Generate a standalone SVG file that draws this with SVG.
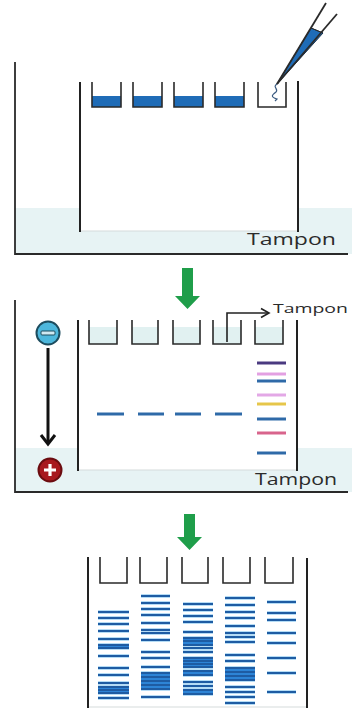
<svg xmlns="http://www.w3.org/2000/svg" xmlns:xlink="http://www.w3.org/1999/xlink" width="352" height="714" viewBox="0 0 352 714">
  <style>
    .wall { stroke: #222; stroke-width: 2; fill: none; }
    .tank { stroke: #2a2a2a; stroke-width: 1.8; fill: none; }
    .well { stroke: #2a2a2a; stroke-width: 1.6; fill: none; }
    .gelbase { stroke: #d6dcdc; stroke-width: 1.2; }
    .buffer { fill: #e7f3f4; }
    .label { font-family: "Open Sans", "Liberation Sans", sans-serif; fill: #2b2b2b; }
    .green { fill: #1f9e4a; }
    .halo { stroke: #b5dcf5; stroke-width: 4.2; fill: none; }
    .band { stroke: #1e5ca3; stroke-width: 2.1; fill: none; }
    .block { fill: #2d84d6; }
  </style>
  <defs>
    <!-- band layouts for the final gel, one path per lane -->
    <path id="lane1" d="M98,612h31M98,618h31M98,624h31M98,631h31M98,639h31M98,645h31M98,648h31M98,656h31M98,668h31M98,675h31M98,683h31M98,687h31M98,690h31M98,693h31M98,698h31"/>
    <path id="lane2" d="M141,596h29M141,603h29M141,609h29M141,615h29M141,623h29M141,630h29M141,633h29M141,640h29M141,652h29M141,658h29M141,667h29M141,673h29M141,677h29M141,681h29M141,685h29M141,689h29M141,697h29"/>
    <path id="lane3" d="M183,604h30M183,610h30M183,616h30M183,622h30M183,632h30M183,638h30M183,641h30M183,645h30M183,648h30M183,652h30M183,658h30M183,661h30M183,664h30M183,667h30M183,671h30M183,675h30M183,682h30M183,686h30M183,690h30M183,694h30"/>
    <path id="lane4" d="M225,598h30M225,605h30M225,612h30M225,618h30M225,626h30M225,633h30M225,637h30M225,642h30M225,655h30M225,661h30M225,668h30M225,672h30M225,676h30M225,680h30M225,687h30M225,692h30M225,697h30M225,703h30"/>
    <path id="lane5" d="M267,602h29M267,613h29M267,620h29M267,633h29M267,643h29M267,658h29M267,673h29M267,692h29"/>
  </defs>

  <rect width="352" height="714" fill="#ffffff"/>

  <!-- Step 1: loading the wells -->
  <g id="tank1">
    <rect class="buffer" x="15" y="208" width="337" height="46"/>
    <path class="tank" d="M15,62 V254 H348"/>
  </g>
  <g id="gel1">
    <rect x="80" y="82" width="218" height="149" fill="#ffffff"/>
    <line class="gelbase" x1="80" y1="231" x2="298" y2="231"/>
    <line class="wall" x1="80" y1="82" x2="80" y2="232"/>
    <line class="wall" x1="298" y1="81" x2="298" y2="232"/>
  </g>
  <g id="wells1">
    <g fill="#1f6cb7">
      <rect x="92" y="96" width="29" height="11"/>
      <rect x="133" y="96" width="29" height="11"/>
      <rect x="174" y="96" width="29" height="11"/>
      <rect x="215" y="96" width="29" height="11"/>
    </g>
    <path class="well" d="M92,82V107H121V82M133,82V107H162V82M174,82V107H203V82M215,82V107H244V82M258,82V107H286V82"/>
    <path d="M277,84 C272,87 279,89 276,92 C272,95 270,97 277,99 L275,101" fill="none" stroke="#3b5b80" stroke-width="1.2"/>
  </g>
  <g id="pipette">
    <polygon points="277,84 311,28 323,33" fill="#1f6cb7" stroke="#1c3550" stroke-width="1"/>
    <line x1="277" y1="84" x2="326" y2="3" stroke="#2a2a2a" stroke-width="1.8"/>
    <line x1="277" y1="84" x2="337" y2="14" stroke="#2a2a2a" stroke-width="1.8"/>
    <line x1="311" y1="28" x2="323" y2="33" stroke="#2a2a2a" stroke-width="1"/>
  </g>
  <text class="label" x="247" y="245" font-size="16" textLength="89" lengthAdjust="spacingAndGlyphs">Tampon</text>

  <!-- Step 2: electrophoresis -->
  <g id="tank2">
    <rect class="buffer" x="15" y="448" width="337" height="44"/>
    <path class="tank" d="M15,300 V492 H348"/>
  </g>
  <g id="gel2">
    <rect x="78" y="320" width="219" height="150" fill="#ffffff"/>
    <line class="gelbase" x1="78" y1="470" x2="297" y2="470"/>
    <line class="wall" x1="78" y1="320" x2="78" y2="471"/>
    <line class="wall" x1="297" y1="320" x2="297" y2="471"/>
  </g>
  <g id="wells2">
    <g fill="#e1f1f1">
      <rect x="89" y="327" width="28" height="17"/>
      <rect x="132" y="327" width="26" height="17"/>
      <rect x="173" y="327" width="27" height="17"/>
      <rect x="213" y="327" width="28" height="17"/>
      <rect x="255" y="327" width="28" height="17"/>
    </g>
    <path class="well" d="M89,320V344H117V320M132,320V344H158V320M173,320V344H200V320M213,320V344H241V320M255,320V344H283V320"/>
  </g>
  <g id="samples2" stroke="#2f6aa8" stroke-width="3">
    <line x1="97" y1="414" x2="124" y2="414"/>
    <line x1="138" y1="414" x2="164" y2="414"/>
    <line x1="175" y1="414" x2="201" y2="414"/>
    <line x1="215" y1="414" x2="242" y2="414"/>
  </g>
  <g id="ladder2" stroke-width="3">
    <line x1="257" y1="363" x2="286" y2="363" stroke="#4a3a80"/>
    <line x1="257" y1="374" x2="286" y2="374" stroke="#e3a0e2"/>
    <line x1="257" y1="381" x2="286" y2="381" stroke="#2f6aa8"/>
    <line x1="257" y1="395" x2="286" y2="395" stroke="#e3a8e6"/>
    <line x1="257" y1="404" x2="286" y2="404" stroke="#e6c64a"/>
    <line x1="257" y1="419" x2="286" y2="419" stroke="#2f6aa8"/>
    <line x1="257" y1="433" x2="286" y2="433" stroke="#d8648c"/>
    <line x1="257" y1="453" x2="286" y2="453" stroke="#2f6aa8"/>
  </g>
  <g id="cathode">
    <circle cx="48" cy="333" r="11.5" fill="#4db7dc" stroke="#1d4c5e" stroke-width="2"/>
    <rect x="41" y="331" width="14" height="4" rx="1" fill="#cfe9f2" stroke="#1d4c5e" stroke-width="1"/>
  </g>
  <g id="anode">
    <circle cx="50" cy="470" r="11.5" fill="#a8181e" stroke="#6b0c10" stroke-width="2"/>
    <path d="M50,464V476M44,470H56" stroke="#ffffff" stroke-width="3.2"/>
  </g>
  <text class="label" x="255" y="485" font-size="16" textLength="82" lengthAdjust="spacingAndGlyphs">Tampon</text>
  <text class="label" x="273" y="313" font-size="13.5" textLength="75" lengthAdjust="spacingAndGlyphs">Tampon</text>

  <!-- Step 3: separated fragments -->
  <g id="gel3">
    <line class="gelbase" x1="88" y1="707" x2="307" y2="707"/>
    <line class="wall" x1="88" y1="557" x2="88" y2="708"/>
    <line class="wall" x1="307" y1="558" x2="307" y2="708"/>
  </g>
  <g id="wells3">
    <path class="well" d="M100,557V583H127V557M140,557V583H167V557M182,557V583H208V557M223,557V583H250V557M265,557V583H293V557"/>
  </g>
  <g id="bands3">
    <use xlink:href="#lane1" class="halo"/>
    <use xlink:href="#lane2" class="halo"/>
    <use xlink:href="#lane3" class="halo"/>
    <use xlink:href="#lane4" class="halo"/>
    <use xlink:href="#lane5" class="halo"/>
    <rect class="block" x="98" y="644" width="31" height="5"/>
    <rect class="block" x="98" y="686" width="31" height="8"/>
    <rect class="block" x="141" y="672" width="29" height="17"/>
    <rect class="block" x="183" y="637" width="30" height="9"/>
    <rect class="block" x="183" y="657" width="30" height="11"/>
    <rect class="block" x="183" y="670" width="30" height="6"/>
    <rect class="block" x="183" y="689" width="30" height="6"/>
    <rect class="block" x="225" y="667" width="30" height="14"/>
    <use xlink:href="#lane1" class="band"/>
    <use xlink:href="#lane2" class="band"/>
    <use xlink:href="#lane3" class="band"/>
    <use xlink:href="#lane4" class="band"/>
    <use xlink:href="#lane5" class="band"/>
  </g>

  <!-- connectors -->
  <g id="connectors">
    <polygon class="green" points="182,268 193,268 193,296 200,296 187.5,309 175,296 182,296"/>
    <polygon class="green" points="184,514 195,514 195,537 202,537 189.5,550 177,537 184,537"/>
    <g fill="none" stroke="#111" stroke-width="3">
      <line x1="48" y1="348" x2="48" y2="443"/>
      <path d="M41,435 L48,444 L55,435" stroke-linejoin="miter"/>
    </g>
    <g fill="none" stroke="#222" stroke-width="1.6">
      <path d="M227,342 V313 H268"/>
      <path d="M261,308.5 L269,313 L261,317.5"/>
    </g>
  </g>
</svg>
